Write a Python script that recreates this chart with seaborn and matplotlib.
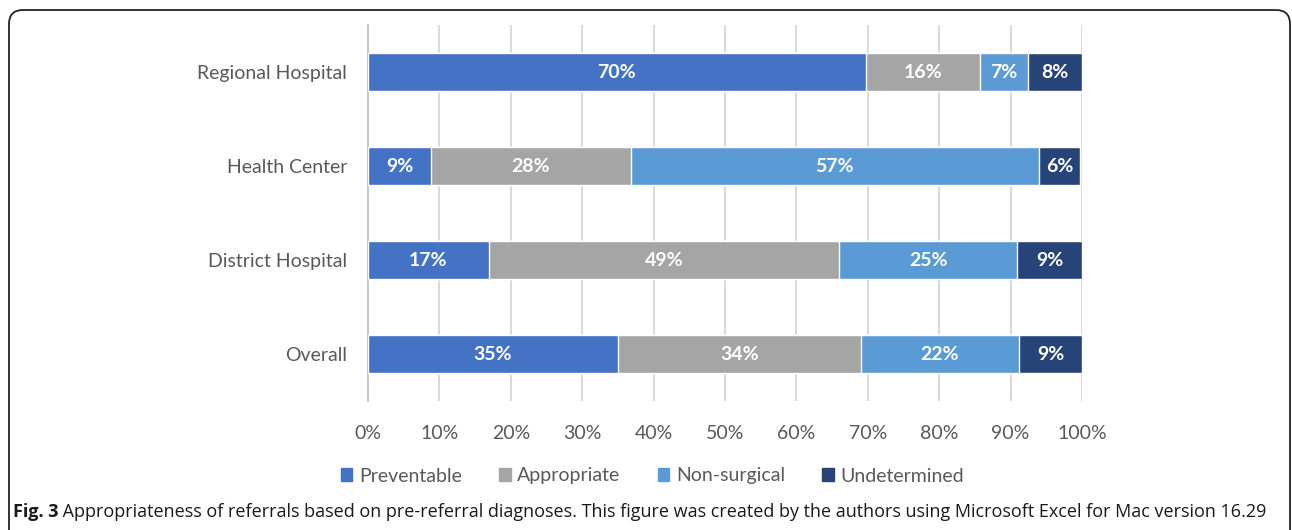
import matplotlib
matplotlib.use("Agg")
import matplotlib.pyplot as plt
import matplotlib.patches as mpatches
import matplotlib.transforms as mtransforms
import pandas as pd
import seaborn as sns

# ---- datos ----
categorias = ["Regional Hospital", "Health Center", "District Hospital", "Overall"]
series = ["Preventable", "Appropriate", "Non-surgical", "Undetermined"]
preventable = [69.7, 8.8, 16.9, 35.0]
appropriate = [16.0, 28.0, 49.1, 34.0]
non_surgical = [6.7, 57.2, 24.9, 22.2]
undetermined = [7.6, 5.7, 9.1, 8.8]
ticks_x = [0, 10, 20, 30, 40, 50, 60, 70, 80, 90, 100]

colores = {
    "Preventable": "#4472C4",
    "Appropriate": "#A5A5A5",
    "Non-surgical": "#5B9BD5",
    "Undetermined": "#264478",
}

caption_bold = "Fig. 3"
caption_text = (" Appropriateness of referrals based on pre-referral diagnoses. "
                "This figure was created by the authors using Microsoft Excel for Mac version 16.29")

# tabla larga con inicio / fin de cada segmento
valores = {"Preventable": preventable, "Appropriate": appropriate,
           "Non-surgical": non_surgical, "Undetermined": undetermined}
filas = []
for i, cat in enumerate(categorias):
    inicio = 0.0
    for s in series:
        v = valores[s][i]
        filas.append({"categoria": cat, "serie": s, "valor": v,
                      "inicio": inicio, "fin": inicio + v})
        inicio += v
df = pd.DataFrame(filas)

# ---- figura ----
sns.set_theme(style="white")
plt.rcParams["font.family"] = ["Lato", "DejaVu Sans"]

fig = plt.figure(figsize=(12.92, 5.30), dpi=100)
ax = fig.add_axes([368 / 1292, 1 - 401 / 530, (1082 - 368) / 1292, 376 / 530])

# barras apiladas: se dibuja el acumulado de atras hacia adelante
for s in reversed(series):
    sub = df[df["serie"] == s]
    sns.barplot(data=sub, x="fin", y="categoria", order=categorias,
                color=colores[s], saturation=1, width=0.4, errorbar=None,
                orient="h", ax=ax, zorder=3)

# etiquetas de cada segmento
for _, r in df.iterrows():
    ax.text(r["inicio"] + r["valor"] / 2, categorias.index(r["categoria"]),
            f"{round(r['valor']):d}%", ha="center", va="center",
            color="white", fontsize=14, fontweight="bold", zorder=4)

ax.set_xlim(0, 100)
ax.set_xticks(ticks_x)
ax.set_xticklabels([f"{t}%" for t in ticks_x])
ax.set_xlabel("")
ax.set_ylabel("")
ax.xaxis.grid(True, color="#D9D9D9", linewidth=1.4, zorder=0)
ax.yaxis.grid(False)
ax.set_axisbelow(True)
for lado in ["top", "right", "bottom"]:
    ax.spines[lado].set_visible(False)
ax.spines["left"].set_color("#C8C8C8")
ax.spines["left"].set_linewidth(1.4)
ax.tick_params(axis="x", length=0, pad=17, labelsize=14, labelcolor="#595959")
ax.tick_params(axis="y", length=0, pad=15, labelsize=14, labelcolor="#595959")

# leyenda
handles = [mpatches.Patch(color=colores[s], label=s) for s in series]
fig.legend(handles=handles, loc="center", bbox_to_anchor=(0.505, 1 - 476 / 530),
           ncol=4, frameon=False, fontsize=14, handlelength=0.6, handleheight=0.6,
           handletextpad=0.35, columnspacing=1.9, labelcolor="#595959")

# marco redondeado (se sale por abajo)
marco = mpatches.FancyBboxPatch((9, -30), 1281, 530 - 10 + 30,
                                boxstyle="round,pad=0,rounding_size=14",
                                transform=mtransforms.IdentityTransform(),
                                facecolor="none", edgecolor="#222222", linewidth=1.3)
fig.patches.append(marco)

# pie de figura
t1 = fig.text(13 / 1292, 1 - 512 / 530, caption_bold, ha="left", va="center",
              fontsize=13, fontweight="bold", color="#1a1a1a",
              family=["Open Sans", "DejaVu Sans"])
ax.annotate(caption_text, xy=(1, 0.5), xycoords=t1, va="center", ha="left",
            fontsize=13, color="#1a1a1a", family=["Open Sans", "DejaVu Sans"],
            annotation_clip=False)

fig.savefig("out.png", dpi=100)
